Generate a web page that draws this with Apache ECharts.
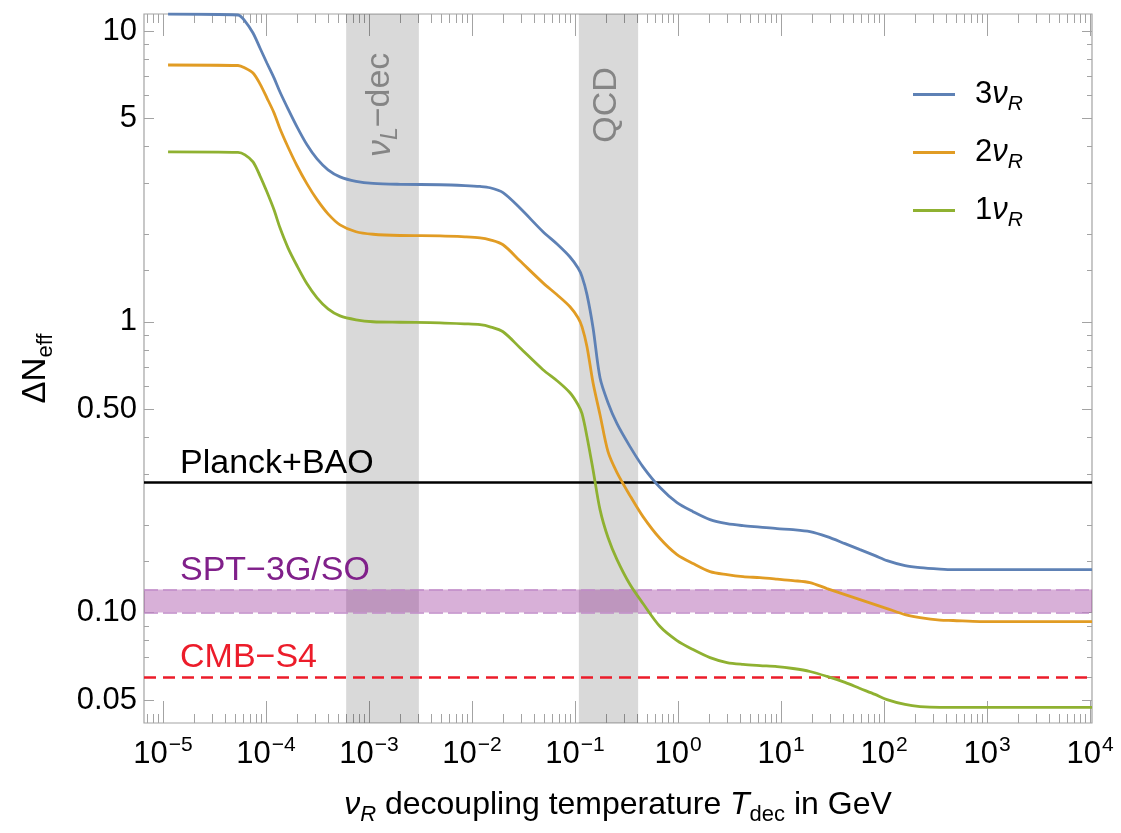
<!DOCTYPE html>
<html>
<head>
<meta charset="UTF-8">
<title>Delta N_eff vs decoupling temperature</title>
<script src="https://cdn.jsdelivr.net/npm/echarts@6/dist/echarts.min.js"></script>
<style>
html,body{margin:0;background:#fff;}
#chart{width:1121px;height:833px;}
</style>
</head>
<body>
<div id="chart"></div>
<script>

// decoupling temperature T_dec in GeV, shared by the three curves
const temps = [1.12e-5, 5.35e-5, 6.25e-5, 7.48e-5, 8.74e-5, 1.02e-4, 1.196e-4, 1.367e-4, 1.635e-4, 2.0e-4,
 2.5e-4, 3.13e-4, 4.0e-4, 5.23e-4, 7.48e-4, 1.093e-3, 2.0e-3, 4.89e-3, 8.55e-3, 0.01196,
 0.01496, 0.02, 0.0292, 0.0489, 0.0669, 0.0894, 0.107, 0.117, 0.1307, 0.1496,
 0.1749, 0.2091, 0.2557, 0.342, 0.457, 0.669, 0.978, 1.398, 2.045, 2.99,
 4.28, 6.25, 9.15, 13.08, 19.1, 27.97, 41.8, 58.5, 81.8, 106.9,
 160, 223.7, 349.8, 467.8, 855, 10460]

// Delta N_eff for 3, 2 and 1 right-handed neutrinos
const dn3 = [11.44, 11.35, 10.82, 9.84, 8.74, 7.76, 6.90, 6.17, 5.40, 4.68,
 4.06, 3.63, 3.33, 3.15, 3.04, 2.99, 2.97, 2.96, 2.94, 2.92,
 2.89, 2.78, 2.46, 2.04, 1.85, 1.67, 1.53, 1.43, 1.24, 0.954,
 0.642, 0.527, 0.446, 0.372, 0.317, 0.269, 0.2387, 0.2223, 0.2087, 0.2022,
 0.1990, 0.1967, 0.1943, 0.1928, 0.1898, 0.1824, 0.1726, 0.1646, 0.1570, 0.1509,
 0.1450, 0.1427, 0.1411, 0.1405, 0.1405, 0.1405]
const dn2 = [7.64, 7.61, 7.46, 7.17, 6.58, 5.89, 5.23, 4.61, 3.99, 3.44,
 2.98, 2.63, 2.35, 2.154, 2.04, 2.00, 1.98, 1.975, 1.96, 1.944,
 1.913, 1.84, 1.62, 1.361, 1.238, 1.126, 1.032, 0.961, 0.821, 0.617,
 0.479, 0.3574, 0.3029, 0.2524, 0.2138, 0.1797, 0.1582, 0.1474, 0.1383, 0.1350,
 0.1329, 0.1318, 0.1303, 0.1288, 0.1268, 0.1209, 0.1153, 0.1108, 0.1065, 0.1032,
 0.0984, 0.0961, 0.0942, 0.0939, 0.0931, 0.0931]
const dn1 = [3.838, 3.823, 3.748, 3.546, 3.176, 2.798, 2.426, 2.104, 1.796, 1.558,
 1.351, 1.209, 1.108, 1.048, 1.016, 1.000, 0.996, 0.992, 0.984, 0.977,
 0.961, 0.924, 0.814, 0.684, 0.627, 0.570, 0.5185, 0.483, 0.4026, 0.310,
 0.2259, 0.1811, 0.1521, 0.1248, 0.1074, 0.0895, 0.0801, 0.0746, 0.0700, 0.0673,
 0.0663, 0.0657, 0.0652, 0.0642, 0.0627, 0.0603, 0.0575, 0.0548, 0.0523, 0.0502,
 0.0483, 0.0475, 0.0472, 0.0472, 0.0472, 0.0472]

const seriesNames = ['3νR', '2νR', '1νR']

// experimental limits
const planckBao = 0.28
const sptBand = [0.10, 0.12]
const cmbS4 = 0.06

// shaded temperature ranges
const nuLBand = [6.0e-4, 3.05e-3]
const qcdBand = [0.109, 0.41]
const nuLLabelAt = [1.28e-3, 5.57]
const qcdLabelAt = [0.205, 5.57]

// axes
const xMin = 6.54e-6, xMax = 10450
const yMin = 0.0417, yMax = 11.44
const xMajor = [1e-5, 1e-4, 1e-3, 1e-2, 1e-1, 1, 10, 100, 1000, 10000]
const xMinorMult = [2, 3, 4, 5, 6, 7, 8, 9]
const yMajor = [0.05, 0.1, 0.5, 1, 5, 10]
const yMajorLabels = ['0.05', '0.10', '0.50', '1', '5', '10']
const yMinor = [0.06, 0.07, 0.08, 0.09, 0.15, 0.2, 0.3, 0.4, 0.6, 0.7, 0.8, 0.9, 1.5, 2, 3, 4, 6, 7, 8, 9]

const lg = Math.log10
const font = '"Liberation Sans", Arial, Helvetica, sans-serif'
const colors = ['#5e81b5', '#e19c24', '#8fb131']
const frameColor = '#a3a3a3'

const xMinor = []
for (let d = -6; d <= 4; d++) {
 xMinorMult.forEach(m => {
  const v = m * Math.pow(10, d)
  if (v > xMin && v < xMax) xMinor.push(v)
 })
}

function frameAxis(dim, position, values, length, label) {
 const lo = dim === 'x' ? lg(xMin) : lg(yMin)
 const hi = dim === 'x' ? lg(xMax) : lg(yMax)
 return {
  type: 'value', gridIndex: 0, position, min: lo, max: hi,
  axisLine: { show: false, onZero: false },
  splitLine: { show: false },
  axisTick: { show: true, inside: true, length, customValues: values.map(lg),
   lineStyle: { color: frameColor, width: 1 } },
  axisLabel: label ? Object.assign({ customValues: values.map(lg) }, label) : { show: false }
 }
}

const xLabel = {
 margin: 12,
 formatter: v => {
  const e = Math.round(v)
  return '{b|10}{e|' + (e < 0 ? '−' + (-e) : e) + '}'
 },
 rich: {
  b: { fontSize: 31, fontFamily: font, color: '#000', verticalAlign: 'bottom' },
  e: { fontSize: 21, fontFamily: font, color: '#000', verticalAlign: 'bottom', padding: [0, 0, 14, 1] }
 }
}

const yLabel = {
 margin: 7,
 fontSize: 31, fontFamily: font, color: '#000',
 formatter: v => {
  let best = 0
  yMajor.forEach((m, i) => { if (Math.abs(lg(m) - v) < Math.abs(lg(yMajor[best]) - v)) best = i })
  return yMajorLabels[best]
 }
}

const xBottom = frameAxis('x', 'bottom', xMajor, 22, xLabel)
xBottom.name = '{i|ν}{s|R}{n| decoupling temperature }{i|T}{d|dec}{n| in GeV}'
xBottom.nameLocation = 'middle'
xBottom.nameGap = 66
xBottom.nameTextStyle = {
 rich: {
  n: { fontSize: 32, fontFamily: font, color: '#000', verticalAlign: 'bottom' },
  i: { fontSize: 32, fontFamily: font, fontStyle: 'italic', color: '#000', verticalAlign: 'bottom' },
  s: { fontSize: 22, fontFamily: font, fontStyle: 'italic', color: '#000', verticalAlign: 'bottom', padding: [0, 0, -5, 0] },
  d: { fontSize: 22, fontFamily: font, color: '#000', verticalAlign: 'bottom', padding: [0, 0, -5, 0] }
 }
}

const yLeft = frameAxis('y', 'left', yMajor, 10, yLabel)
yLeft.name = '{n|ΔN}{s|eff}'
yLeft.nameLocation = 'middle'
yLeft.nameRotate = 90
yLeft.nameGap = 92
yLeft.nameTextStyle = {
 rich: {
  n: { fontSize: 33, fontFamily: font, color: '#000', verticalAlign: 'bottom' },
  s: { fontSize: 22, fontFamily: font, color: '#000', verticalAlign: 'bottom', padding: [0, 0, -5, 0] }
 }
}

const curves = [dn3, dn2, dn1].map((vals, k) => ({
 name: seriesNames[k],
 type: 'line',
 xAxisIndex: 0, yAxisIndex: 0,
 data: temps.map((t, i) => [t, vals[i]]),
 color: colors[k],
 showSymbol: false,
 smooth: 0.3,
 lineStyle: { width: 2.8, color: colors[k] },
 z: 5
}))

const lineLabel = (text, color) => ({
 show: true, formatter: text, position: 'insideStartTop', distance: [36, 2],
 color, fontSize: 34, fontFamily: font
})

const limits = {
 type: 'line',
 xAxisIndex: 0, yAxisIndex: 0,
 data: [],
 z: 3,
 markArea: {
  silent: true,
  data: [
   [{ xAxis: nuLBand[0], itemStyle: { color: 'rgba(0,0,0,0.15)' } }, { xAxis: nuLBand[1] }],
   [{ xAxis: qcdBand[0], itemStyle: { color: 'rgba(0,0,0,0.15)' } }, { xAxis: qcdBand[1] }],
   [{ yAxis: sptBand[0], itemStyle: { color: 'rgba(128,0,128,0.31)' } }, { yAxis: sptBand[1] }]
  ]
 },
 markLine: {
  silent: true,
  symbol: 'none',
  data: [
   { yAxis: planckBao, lineStyle: { color: '#000', width: 2.5, type: 'solid' }, label: lineLabel('Planck+BAO', '#000') },
   { yAxis: sptBand[0], lineStyle: { color: '#c08ac8', width: 1.6, type: [14, 5] }, label: { show: false } },
   { yAxis: sptBand[1], lineStyle: { color: '#c08ac8', width: 1.6, type: [14, 5] }, label: lineLabel('SPT−3G/SO', '#80208a') },
   { yAxis: cmbS4, lineStyle: { color: '#ec1c2a', width: 2.5, type: [12, 7] }, label: lineLabel('CMB−S4', '#ec1c2a') }
  ]
 }
}

const chart = echarts.init(document.getElementById('chart'))

chart.setOption({
 animation: false,
 backgroundColor: '#fff',
 grid: { left: 144, right: 29, top: 14, bottom: 110, show: true, borderColor: frameColor, borderWidth: 1.2, backgroundColor: 'transparent' },
 legend: {
  orient: 'vertical', left: 908, top: 74,
  itemWidth: 42, itemHeight: 3, itemGap: 22, icon: 'rect',
  selectedMode: false,
  data: seriesNames,
  formatter: name => '{g|}{n|' + name[0] + '}{v|ν}{s|R}',
  textStyle: {
   rich: {
    g: { width: 15 },
    n: { fontSize: 31, fontFamily: font, color: '#000', verticalAlign: 'bottom' },
    v: { fontSize: 31, fontFamily: font, fontStyle: 'italic', color: '#000', verticalAlign: 'bottom' },
    s: { fontSize: 21, fontFamily: font, fontStyle: 'italic', color: '#000', verticalAlign: 'bottom', padding: [0, 0, -5, 0] }
   }
  }
 },
 xAxis: [
  { type: 'log', gridIndex: 0, min: xMin, max: xMax, show: false },
  xBottom,
  frameAxis('x', 'bottom', xMinor, 9),
  frameAxis('x', 'top', xMajor, 22),
  frameAxis('x', 'top', xMinor, 9)
 ],
 yAxis: [
  { type: 'log', gridIndex: 0, min: yMin, max: yMax, show: false },
  yLeft,
  frameAxis('y', 'left', yMinor, 5),
  frameAxis('y', 'right', yMajor, 10),
  frameAxis('y', 'right', yMinor, 5)
 ],
 series: [...curves, limits]
})

// rotated labels of the shaded ranges
const finder = { xAxisIndex: 0, yAxisIndex: 0 }
const p1 = chart.convertToPixel(finder, nuLLabelAt)
const p2 = chart.convertToPixel(finder, qcdLabelAt)
const bandText = { fontSize: 34, fontFamily: font, fill: '#858585' }

chart.setOption({
 graphic: [
  {
   type: 'text', x: p1[0], y: p1[1], rotation: Math.PI / 2, silent: true, z: 10,
   style: Object.assign({
    text: '{i|ν}{s|L}{t|−dec}', align: 'center', verticalAlign: 'middle',
    rich: {
     i: { fontSize: 34, fontFamily: font, fontStyle: 'italic', fill: '#858585', verticalAlign: 'bottom' },
     s: { fontSize: 23, fontFamily: font, fontStyle: 'italic', fill: '#858585', verticalAlign: 'bottom', padding: [0, 0, -5, 0] },
     t: { fontSize: 34, fontFamily: font, fill: '#858585', verticalAlign: 'bottom' }
    }
   }, bandText)
  },
  {
   type: 'text', x: p2[0], y: p2[1], rotation: Math.PI / 2, silent: true, z: 10,
   style: Object.assign({ text: 'QCD', align: 'center', verticalAlign: 'middle' }, bandText)
  }
 ]
})

</script>
</body>
</html>
